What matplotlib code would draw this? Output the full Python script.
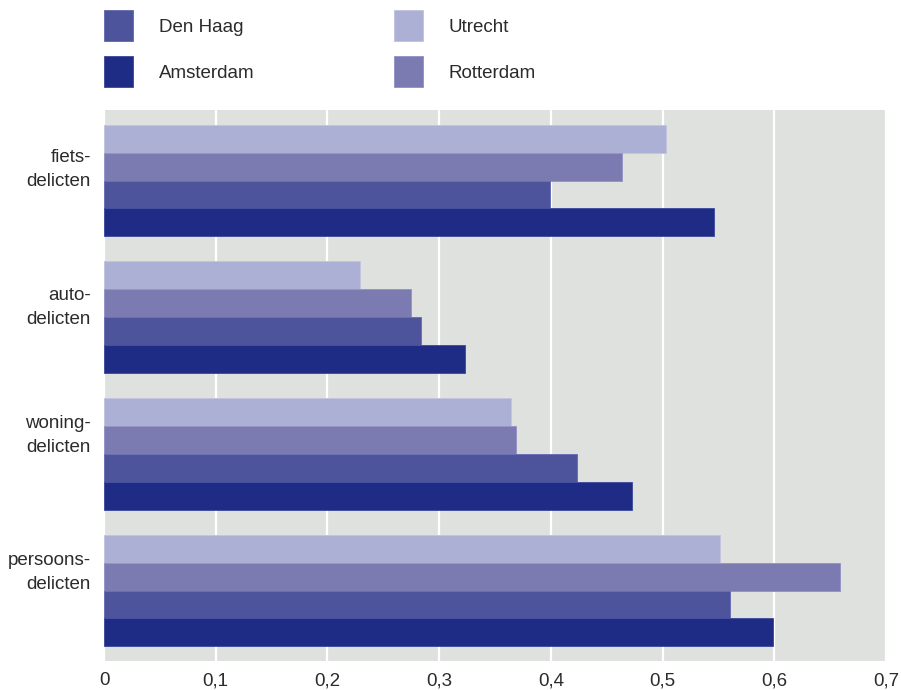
import matplotlib
matplotlib.use("Agg")
import matplotlib.pyplot as plt
from matplotlib.patches import Rectangle
from matplotlib.ticker import FuncFormatter
from matplotlib import font_manager
import numpy as np

# Data
categories = ["fiets-\ndelicten", "auto-\ndelicten", "woning-\ndelicten", "persoons-\ndelicten"]
series_names = ["Utrecht", "Rotterdam", "Den Haag", "Amsterdam"]
utrecht = [0.503, 0.229, 0.364, 0.551]
rotterdam = [0.464, 0.275, 0.369, 0.659]
den_haag = [0.399, 0.284, 0.423, 0.560]
amsterdam = [0.546, 0.323, 0.473, 0.599]
x_ticks = [0, 0.1, 0.2, 0.3, 0.4, 0.5, 0.6, 0.7]

colors = {"Utrecht": "#adb0d5", "Rotterdam": "#7b7ab1",
          "Den Haag": "#4e549c", "Amsterdam": "#1e2c86"}
edges = {"Utrecht": "#c2c4e2", "Rotterdam": "#9695c6",
         "Den Haag": "#6a70b2", "Amsterdam": "#4550a0"}

available = {f.name for f in font_manager.fontManager.ttflist}
family = "Liberation Sans Narrow" if "Liberation Sans Narrow" in available else "Liberation Sans"
plt.rcParams["font.family"] = [family, "DejaVu Sans"]
text_color = "#2b2b2b"

fig = plt.figure(figsize=(9.01, 6.9), dpi=100)
ax = fig.add_axes([104 / 901, 1 - 661 / 690, (886 - 104) / 901, (661 - 110) / 690])
ax.set_facecolor("#dee1de")

values = {"Utrecht": utrecht, "Rotterdam": rotterdam,
          "Den Haag": den_haag, "Amsterdam": amsterdam}
y = np.arange(len(categories))
h = 0.204
for i, name in enumerate(series_names):
    ax.barh(y + (i - 1.5) * h, values[name], height=h, color=colors[name],
            edgecolor=edges[name], linewidth=0.7, zorder=3)

ax.set_xlim(0, 0.7)
ax.set_ylim(3.515, -0.516)
ax.set_xticks(x_ticks)
ax.xaxis.set_major_formatter(FuncFormatter(lambda v, p: ("%g" % round(v, 1)).replace(".", ",")))
ax.grid(axis="x", color="white", linewidth=1.6, zorder=1)
ax.grid(axis="y", visible=False)
ax.set_axisbelow(True)
for s in ax.spines.values():
    s.set_visible(False)
ax.tick_params(axis="x", length=0, pad=8, labelsize=13.5, labelcolor=text_color)
ax.set_yticks([])

# Category labels to the left of each group, sitting a little above centre
label_offsets = [11, 10, 18, 18]
for yi, lab, off in zip(y, categories, label_offsets):
    ax.annotate(lab, xy=(0, yi), xycoords=("axes fraction", "data"),
                xytext=(-13, off), textcoords="offset pixels",
                ha="right", va="center", fontsize=13.5, color=text_color,
                linespacing=1.55)

# Legend: two columns of squares with names
legend_layout = {"Den Haag": (104, 10), "Amsterdam": (104, 56),
                 "Utrecht": (394, 10), "Rotterdam": (394, 56)}
for name, (px, py) in legend_layout.items():
    fig.add_artist(Rectangle((px / 901, 1 - (py + 31) / 690), 29 / 901, 31 / 690,
                             transform=fig.transFigure, facecolor=colors[name],
                             edgecolor=edges[name], linewidth=0.7))
    fig.text((px + 55) / 901, 1 - (py + 17) / 690, name, ha="left", va="center",
             fontsize=13.5, color=text_color)

fig.savefig("out.png", dpi=100, facecolor="white")
